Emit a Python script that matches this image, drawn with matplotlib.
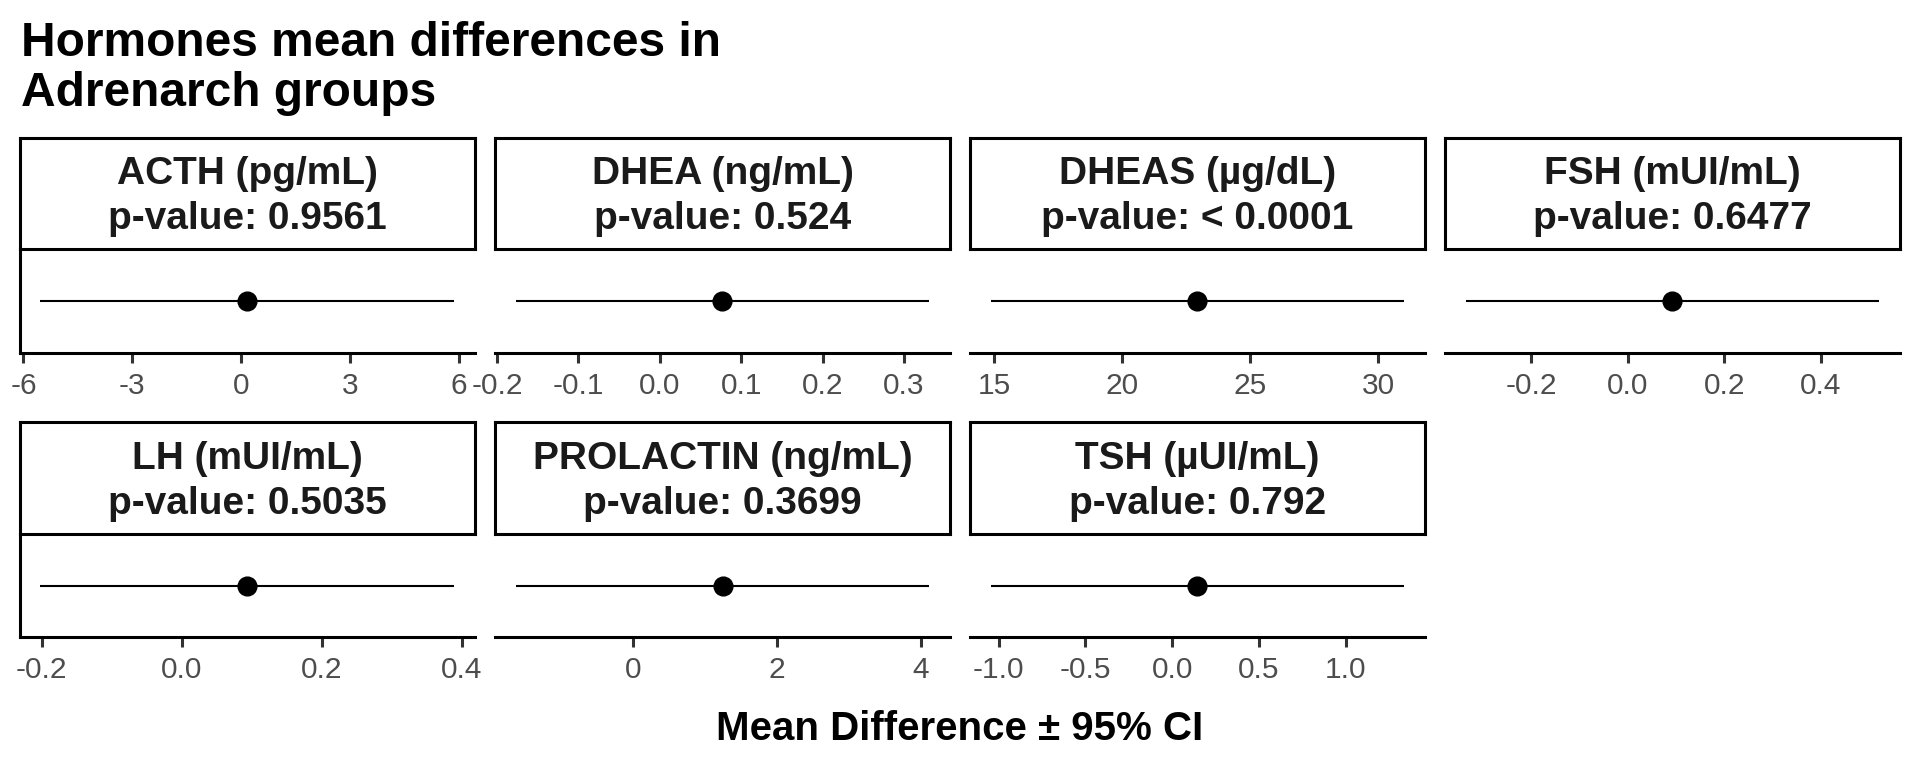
import matplotlib
matplotlib.use("Agg")
import matplotlib.pyplot as plt
import numpy as np

plt.rcParams['font.family'] = ['Liberation Sans', 'DejaVu Sans']

hormones = ["ACTH (pg/mL)", "DHEA (ng/mL)", "DHEAS (µg/dL)", "FSH (mUI/mL)",
            "LH (mUI/mL)", "PROLACTIN (ng/mL)", "TSH (µUI/mL)"]
p_values = ["0.9561", "0.524", "< 0.0001", "0.6477", "0.5035", "0.3699", "0.792"]
mean_diff = [0.16, 0.077, 22.94, 0.093, 0.093, 1.245, 0.146]
ci_low = [-5.54, -0.177, 14.86, -0.335, -0.202, -1.627, -1.046]
ci_high = [5.86, 0.331, 31.03, 0.521, 0.389, 4.117, 1.339]
tick_values = [[-6, -3, 0, 3, 6],
               [-0.2, -0.1, 0.0, 0.1, 0.2, 0.3],
               [15, 20, 25, 30],
               [-0.2, 0.0, 0.2, 0.4],
               [-0.2, 0.0, 0.2, 0.4],
               [0, 2, 4],
               [-1.0, -0.5, 0.0, 0.5, 1.0]]
tick_labels = [["-6", "-3", "0", "3", "6"],
               ["-0.2", "-0.1", "0.0", "0.1", "0.2", "0.3"],
               ["15", "20", "25", "30"],
               ["-0.2", "0.0", "0.2", "0.4"],
               ["-0.2", "0.0", "0.2", "0.4"],
               ["0", "2", "4"],
               ["-1.0", "-0.5", "0.0", "0.5", "1.0"]]

W, H = 1920, 768
fig = plt.figure(figsize=(19.2, 7.68), dpi=100)

col_left = [19.5, 495, 970, 1445]
panel_w = 455
rows = [(138, 249, 353), (422, 534, 637)]  # strip top, panel top, panel bottom (px from top)

for i, name in enumerate(hormones):
    r, c = divmod(i, 4)
    s_top, p_top, p_bot = rows[r]
    x0 = col_left[c] / W

    # panel
    ax = fig.add_axes([x0, 1 - p_bot / H, panel_w / W, (p_bot - p_top) / H])
    ax.patch.set_alpha(0)
    ax.hlines(0, ci_low[i], ci_high[i], color='black', linewidth=1.5)
    ax.plot(mean_diff[i], 0, 'o', color='black', markersize=13.5)
    span = ci_high[i] - ci_low[i]
    ax.set_xlim(ci_low[i] - 0.05 * span, ci_high[i] + 0.05 * span)
    ax.set_ylim(-1, 1)
    ax.set_xticks(tick_values[i])
    ax.set_xticklabels(tick_labels[i])
    ax.tick_params(axis='x', length=7, width=2.2, color='#333333', labelsize=21.5,
                   labelcolor='#4D4D4D', pad=7)
    ax.set_yticks([])
    ax.spines['top'].set_visible(False)
    ax.spines['right'].set_visible(False)
    ax.spines['bottom'].set_linewidth(2.2)
    ax.spines['left'].set_linewidth(2.2)
    if c != 0:
        ax.spines['left'].set_visible(False)

    # strip
    sax = fig.add_axes([x0, 1 - p_top / H, panel_w / W, (p_top - s_top) / H])
    sax.set_xticks([])
    sax.set_yticks([])
    for sp in sax.spines.values():
        sp.set_linewidth(2.2)
        sp.set_color('black')
    sax.text(0.5, 0.47, f"{name}\np-value: {p_values[i]}", ha='center', va='center',
             fontsize=28, fontweight='bold', color='#1A1A1A', linespacing=1.32,
             transform=sax.transAxes)

fig.text(20.7 / W, 1 - 21 / H, "Hormones mean differences in\nAdrenarch groups",
         ha='left', va='top', fontsize=34.5, fontweight='bold', linespacing=1.13)
fig.text(960 / W, 1 - 729 / H, "Mean Difference ± 95% CI", ha='center', va='center',
         fontsize=29, fontweight='bold')

fig.savefig("out.png", dpi=100, facecolor='white')
